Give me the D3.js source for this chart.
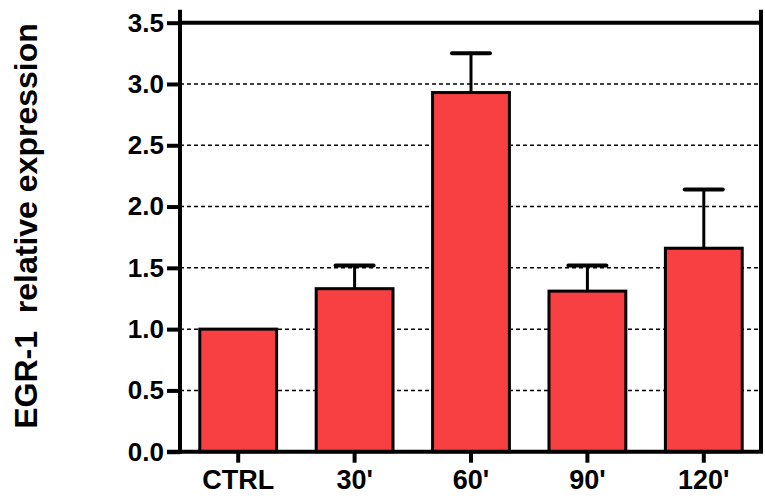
<!DOCTYPE html>
<html>
<head>
<meta charset="utf-8">
<script src="https://cdn.jsdelivr.net/npm/d3@7"></script>
<style>
  html, body { margin: 0; padding: 0; background: #fff; }
  svg { display: block; font-family: "Liberation Sans", Arial, sans-serif; }
</style>
</head>
<body>
<svg id="chart" width="765" height="498"></svg>
<script>
// EGR-1 expression over time after stimulation (mean + SEM)
const categories = ["CTRL", "30'", "60'", "90'", "120'"];
const meanValues = [1.0, 1.33, 2.93, 1.31, 1.66];
const errorValues = [0.0, 0.19, 0.32, 0.21, 0.48];
const yTicks = [0.0, 0.5, 1.0, 1.5, 2.0, 2.5, 3.0, 3.5];
const yTitle = "EGR-1  relative expression";

const svg = d3.select("#chart");
const margin = { left: 180, right: 3, top: 22.7, bottom: 46.3 };
const width = 765 - margin.left - margin.right;
const height = 498 - margin.top - margin.bottom;

const g = svg.append("g").attr("transform", `translate(${margin.left},${margin.top})`);

const x = d3.scaleBand().domain(categories).range([0, width]).paddingInner(0.34).paddingOuter(0.17);
const y = d3.scaleLinear().domain([0, 3.5]).range([height, 0]);

// dotted gridlines
g.append("g")
  .selectAll("line")
  .data(yTicks.filter(t => t > 0 && t < 3.5))
  .join("line")
  .attr("x1", 0).attr("x2", width)
  .attr("y1", d => y(d)).attr("y2", d => y(d))
  .attr("stroke", "#000").attr("stroke-width", 1.5)
  .attr("stroke-dasharray", "4,3");

// bars
g.append("g")
  .selectAll("rect")
  .data(categories)
  .join("rect")
  .attr("x", d => x(d))
  .attr("width", x.bandwidth())
  .attr("y", (d, i) => y(meanValues[i]))
  .attr("height", (d, i) => y(0) - y(meanValues[i]))
  .attr("fill", "#F84043")
  .attr("stroke", "#000")
  .attr("stroke-width", 3);

// error bars (upper only)
const eb = g.append("g").selectAll("g")
  .data(categories.map((c, i) => ({ c, m: meanValues[i], e: errorValues[i] })).filter(d => d.e > 0))
  .join("g");
eb.append("line")
  .attr("x1", d => x(d.c) + x.bandwidth() / 2)
  .attr("x2", d => x(d.c) + x.bandwidth() / 2)
  .attr("y1", d => y(d.m)).attr("y2", d => y(d.m + d.e))
  .attr("stroke", "#000").attr("stroke-width", 3);
eb.append("line")
  .attr("x1", d => x(d.c) + x.bandwidth() / 2 - 19)
  .attr("x2", d => x(d.c) + x.bandwidth() / 2 + 19)
  .attr("y1", d => y(d.m + d.e)).attr("y2", d => y(d.m + d.e))
  .attr("stroke", "#000").attr("stroke-width", 4).attr("stroke-linecap", "round");

// frame: top line at 3.5 and right edge
g.append("line").attr("x1", 0).attr("x2", width).attr("y1", y(3.5)).attr("y2", y(3.5))
  .attr("stroke", "#000").attr("stroke-width", 4);
g.append("line").attr("x1", width - 1).attr("x2", width - 1).attr("y1", -13).attr("y2", height)
  .attr("stroke", "#000").attr("stroke-width", 4);

// y axis
const yAxis = g.append("g")
  .call(d3.axisLeft(y).tickValues(yTicks).tickFormat(d3.format(".1f")).tickSize(13).tickPadding(3));
yAxis.select(".domain").remove();
yAxis.selectAll(".tick line").attr("stroke-width", 4);
yAxis.selectAll(".tick text").attr("font-size", 26).attr("font-weight", "bold").attr("fill", "#000")
  .attr("font-family", "Liberation Sans, Arial, sans-serif");
g.append("line").attr("x1", 0).attr("x2", 0).attr("y1", -13).attr("y2", height + 2)
  .attr("stroke", "#000").attr("stroke-width", 4);

// x axis
const xAxis = g.append("g").attr("transform", `translate(0,${height})`)
  .call(d3.axisBottom(x).tickSize(11).tickPadding(7));
xAxis.select(".domain").remove();
xAxis.selectAll(".tick line").attr("stroke-width", 4);
xAxis.selectAll(".tick text").attr("font-size", 27).attr("font-weight", "bold").attr("fill", "#000")
  .attr("font-family", "Liberation Sans, Arial, sans-serif");
g.append("line").attr("x1", -13).attr("x2", width + 1).attr("y1", height).attr("y2", height)
  .attr("stroke", "#000").attr("stroke-width", 4);

// y title
svg.append("text")
  .attr("transform", "translate(37,226) rotate(-90)")
  .attr("text-anchor", "middle")
  .attr("font-size", 32).attr("font-weight", "bold")
  .style("white-space", "pre")
  .text(yTitle);
</script>
</body>
</html>
